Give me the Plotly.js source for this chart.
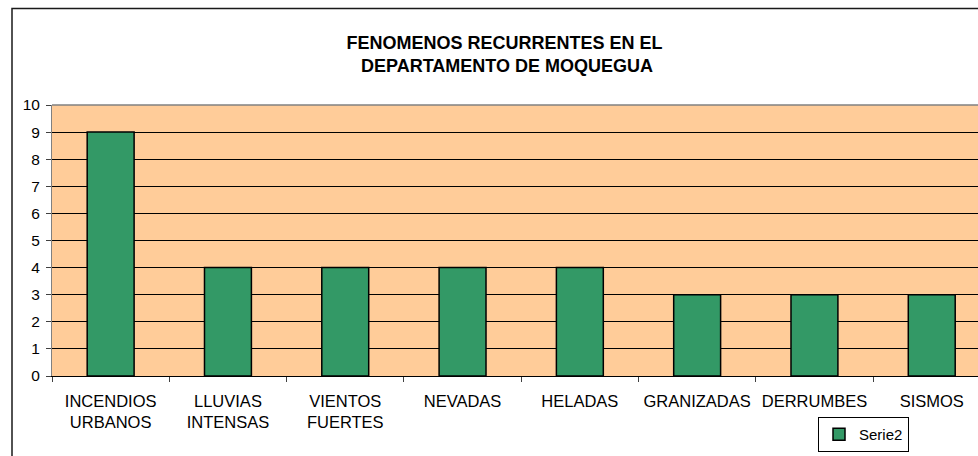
<!DOCTYPE html>
<html>
<head>
<meta charset="utf-8">
<script src="https://cdn.plot.ly/plotly-3.0.1.min.js"></script>
<style>
  html, body { margin: 0; padding: 0; background: #ffffff; }
  #chart { width: 978px; height: 456px; }
</style>
</head>
<body>
<div id="chart"></div>
<script>
var categories = ["INCENDIOS<br>URBANOS", "LLUVIAS<br>INTENSAS", "VIENTOS<br>FUERTES", "NEVADAS", "HELADAS", "GRANIZADAS", "DERRUMBES", "SISMOS"];
var serie2 = [9, 4, 4, 4, 4, 3, 3, 3];
var seriesName = "Serie2";
var yTicks = [0, 1, 2, 3, 4, 5, 6, 7, 8, 9, 10];
var titleText = "FENOMENOS RECURRENTES EN EL<br> DEPARTAMENTO DE MOQUEGUA";

var W = 978, H = 456;
var mL = 52, mR = 0, mT = 105, mB = 80;
var plotW = W - mL - mR, plotH = H - mT - mB;
function px2x(p) { return (p - mL) / plotW; }
function px2y(p) { return (H - mB - p) / plotH; }

var trace = {
  type: "bar",
  x: categories,
  y: serie2,
  name: seriesName,
  width: 0.4,
  marker: { color: "#339966", line: { color: "#000000", width: 1.5 } },
  showlegend: true,
  hoverinfo: "x+y"
};

var layout = {
  width: W, height: H,
  margin: { l: mL, r: mR, t: mT, b: mB, pad: 0, autoexpand: false },
  paper_bgcolor: "#ffffff",
  plot_bgcolor: "#FFCC99",
  font: { family: "Liberation Sans, Arial, sans-serif", color: "#000000" },
  title: {
    text: titleText,
    font: { family: "Liberation Sans, Arial, sans-serif", size: 18, color: "#000000", weight: "bold" },
    x: 504.5 / W, xanchor: "center", xref: "container",
    y: 1 - 49 / H, yanchor: "middle", yref: "container"
  },
  xaxis: {
    type: "category",
    range: [-0.5, -0.5 + plotW / 117.3],
    tickson: "boundaries",
    ticks: "outside", ticklen: 5, tickcolor: "#404040", tickwidth: 1,
    showgrid: false,
    showline: true, linecolor: "#000000", linewidth: 1,
    tickfont: { size: 16.5, color: "#000000" },
    ticklabelstandoff: 10,
    fixedrange: true
  },
  yaxis: {
    range: [0, 10],
    tickvals: yTicks,
    ticks: "outside", ticklen: 5, tickcolor: "#404040", tickwidth: 1,
    showgrid: true, gridcolor: "#000000", gridwidth: 1,
    zeroline: false,
    showline: true, linecolor: "#808080", linewidth: 1,
    tickfont: { size: 15.5, color: "#000000" },
    ticklabelstandoff: 3,
    fixedrange: true
  },
  legend: {
    x: px2x(818), y: px2y(452), xanchor: "left", yanchor: "bottom",
    bgcolor: "#ffffff", bordercolor: "#000000", borderwidth: 1,
    font: { size: 15, color: "#000000" }
  },
  shapes: [
    { type: "line", xref: "paper", yref: "paper", x0: 0, x1: 1.01, y0: 1, y1: 1,
      line: { color: "#808080", width: 1.5 } },
    { type: "rect", xref: "paper", yref: "paper",
      x0: px2x(12), x1: px2x(1000), y0: px2y(8.5), y1: px2y(480),
      line: { color: "#1a1a1a", width: 1.5 }, fillcolor: "rgba(0,0,0,0)" }
  ],
  bargap: 0.6
};

Plotly.newPlot("chart", [trace], layout, { displayModeBar: false, staticPlot: true });
</script>
</body>
</html>
